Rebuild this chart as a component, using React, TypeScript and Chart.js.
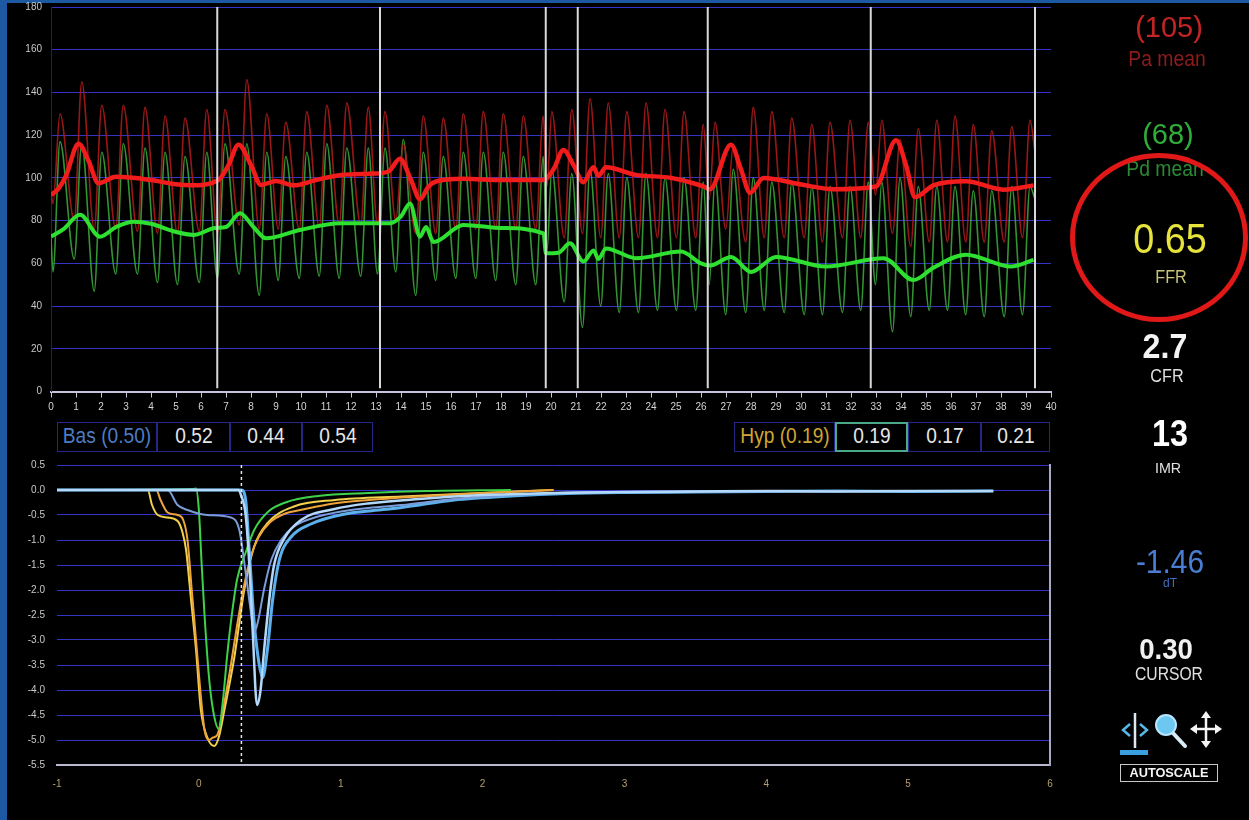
import React, { useEffect, useRef } from "react";
import { Chart, registerables } from "chart.js";
Chart.register(...registerables);

// ---------------- Top chart (pressure, mmHg vs s) ----------------
const topXTicks = [0, 1, 2, 3, 4, 5, 6, 7, 8, 9, 10, 11, 12, 13, 14, 15, 16, 17, 18, 19, 20, 21, 22, 23, 24, 25, 26, 27, 28, 29, 30, 31, 32, 33, 34, 35, 36, 37, 38, 39, 40];
const topYTicks = [0, 20, 40, 60, 80, 100, 120, 140, 160, 180];

const traceStartT = 0;
const paStart = 92;
const pdStart = 72;
const traceEndT = 39.36;
const paEnd = 112;
const pdEnd = 90;

const beatPeakT = [0.36, 1.23, 2.03, 2.89, 3.76, 4.56, 5.36, 6.23, 6.96, 7.83, 8.63, 9.39, 10.23, 11.03, 11.83, 12.69, 13.36, 14.09, 14.89, 15.69, 16.49, 17.29, 18.09, 18.89, 19.69, 20.03, 20.83, 21.56, 22.29, 23.03, 23.8, 24.56, 25.32, 26.09, 26.56, 27.29, 28.09, 28.83, 29.63, 30.43, 31.16, 31.96, 32.69, 33.23, 33.96, 34.69, 35.43, 36.16, 36.89, 37.63, 38.43, 39.16];
const beatTroughT = [0.08, 0.93, 1.73, 2.59, 3.46, 4.26, 5.06, 5.93, 6.66, 7.53, 8.33, 9.09, 9.93, 10.73, 11.53, 12.39, 13.06, 13.79, 14.59, 15.39, 16.19, 16.99, 17.79, 18.59, 19.39, 19.84, 20.53, 21.26, 21.99, 22.73, 23.5, 24.26, 25.02, 25.79, 26.33, 26.99, 27.79, 28.53, 29.33, 30.13, 30.86, 31.66, 32.39, 32.98, 33.66, 34.39, 35.13, 35.86, 36.59, 37.33, 38.13, 38.86];
const paSys = [130, 145, 134, 134, 133, 129, 128, 132, 132, 146, 130, 126, 131, 134, 135, 133, 131, 116, 129, 128, 130, 131, 130, 129, 129, 131, 132, 137, 135, 131, 135, 132, 131, 125, 126, 115, 133, 131, 128, 125, 126, 127, 126, 127, 118, 123, 127, 129, 125, 122, 124, 127];
const paDia = [88, 80, 76, 76, 75, 74, 74, 75, 74, 78, 76, 76, 76, 77, 78, 78, 78, 80, 74, 74, 76, 76, 76, 76, 76, 96, 72, 74, 72, 72, 72, 72, 72, 72, 90, 76, 70, 72, 72, 72, 70, 72, 72, 92, 74, 68, 70, 70, 70, 70, 70, 72];
const pdSys = [117, 116, 112, 116, 114, 112, 110, 112, 116, 116, 112, 110, 112, 116, 114, 114, 114, 118, 112, 110, 112, 112, 112, 110, 110, 104, 102, 104, 102, 100, 102, 100, 100, 98, 100, 104, 100, 98, 98, 96, 96, 96, 98, 98, 100, 96, 96, 96, 94, 94, 96, 96];
const pdDia = [56, 62, 47, 55, 55, 51, 50, 51, 53, 55, 45, 52, 53, 54, 53, 54, 55, 56, 45, 52, 53, 53, 52, 50, 50, 66, 42, 30, 40, 37, 37, 38, 38, 38, 50, 36, 37, 38, 37, 36, 36, 37, 38, 50, 28, 35, 38, 38, 36, 35, 35, 36];

const paMeanT = [0, 0.3, 0.6, 1.1, 1.5, 1.9, 2.6, 4.0, 5.0, 5.6, 6.7, 7.1, 7.5, 8.0, 8.4, 9.0, 9.7, 10.6, 11.6, 12.9, 13.5, 13.96, 14.4, 14.76, 15.1, 15.4, 16.5, 18.0, 19.7, 20.1, 20.5, 20.9, 21.3, 21.7, 21.9, 22.2, 23.4, 24.8, 26.1, 26.36, 27.2, 27.6, 27.96, 28.5, 29.96, 31.3, 33.0, 33.8, 34.2, 34.56, 35.3, 36.6, 38.1, 39.3];
const paMeanV = [92, 95, 101, 116, 108, 97.5, 100.5, 99, 97, 96.5, 99, 106, 115.5, 106, 96.7, 98.5, 96.5, 99, 101.4, 102, 103, 109, 99, 90, 96, 98.3, 99.6, 99, 99, 104, 113, 106, 98, 105, 101, 105, 101.4, 100, 96, 94.7, 115.5, 104, 93, 100, 97, 94.7, 96, 117.6, 106, 91, 96.5, 98.4, 94.5, 96.5];
const pdMeanT = [0, 0.5, 1.16, 1.96, 2.6, 3.3, 4.0, 4.9, 5.7, 6.56, 7.0, 7.56, 8.1, 8.6, 9.96, 11.56, 12.9, 13.56, 14.0, 14.36, 14.76, 15.0, 15.3, 16.5, 18.1, 19.7, 19.8, 20.3, 20.76, 21.3, 21.7, 21.9, 22.2, 23.4, 25.2, 26.0, 26.36, 27.2, 28.0, 29.0, 31.0, 33.3, 34.5, 35.3, 36.6, 38.4, 39.3];
const pdMeanV = [72.5, 76, 82.7, 72.5, 77, 79.5, 78.5, 75, 73.3, 76.5, 77, 83.5, 77, 71.7, 75.6, 78.8, 78.8, 78.8, 82, 88, 72.5, 77, 70, 78, 76.5, 74, 64.7, 65, 69.4, 60.8, 66, 62, 67, 62.4, 65.5, 60, 59, 63, 56, 63, 58.5, 62.4, 52.2, 58, 64, 58.5, 61.6];

const cursorT = [6.65, 13.16, 19.79, 21.07, 26.27, 32.79, 39.36];

// ---------------- Bottom chart (thermodilution curves) ----------------
const bottomXTicks = [-1, 0, 1, 2, 3, 4, 5, 6];
const bottomYTicks = [0.5, 0, -0.5, -1, -1.5, -2, -2.5, -3, -3.5, -4, -4.5, -5, -5.5];
const thermoCursor = 0.3;

const hyp1T = [-1, -0.36, -0.33, -0.29, -0.22, -0.15, -0.115, -0.09, -0.055, -0.02, 0.014, 0.06, 0.108, 0.14, 0.18, 0.25, 0.32, 0.39, 0.485, 0.67, 0.96, 1.43, 2.0, 2.5];
const hyp1V = [0, 0, -0.3, -0.5, -0.55, -0.62, -0.85, -1.2, -2.2, -3.2, -4.4, -4.95, -5.12, -4.95, -4.4, -3.35, -2.0, -1.13, -0.66, -0.33, -0.2, -0.13, -0.06, 0];
const hyp2T = [-1, -0.3, -0.27, -0.22, -0.15, -0.11, -0.08, -0.05, -0.02, 0.01, 0.04, 0.07, 0.1, 0.13, 0.17, 0.22, 0.27, 0.32, 0.37, 0.42, 0.5, 0.6, 0.75, 0.95, 1.2, 1.5, 2.0, 2.5];
const hyp2V = [0, 0, -0.2, -0.45, -0.5, -0.6, -1.0, -2.0, -3.0, -4.0, -4.8, -5.0, -4.95, -4.9, -4.4, -3.6, -2.7, -1.9, -1.3, -0.95, -0.65, -0.48, -0.38, -0.27, -0.2, -0.14, -0.06, 0];
const hyp3T = [-1, -0.04, -0.02, 0.0, 0.02, 0.04, 0.07, 0.1, 0.14, 0.17, 0.2, 0.23, 0.27, 0.33, 0.39, 0.49, 0.61, 0.84, 1.2, 1.6, 2.2];
const hyp3V = [0, 0.02, 0.03, -0.4, -1.5, -2.5, -3.7, -4.4, -4.78, -4.2, -3.3, -2.55, -1.78, -1.25, -0.8, -0.43, -0.25, -0.12, -0.06, -0.02, 0];
const bas1T = [-1, 0.28, 0.297, 0.33, 0.356, 0.38, 0.41, 0.435, 0.46, 0.5, 0.53, 0.6, 0.72, 0.956, 1.19, 1.55, 2.0, 2.5, 3.0, 3.5, 4.0, 4.5, 5.0, 5.6];
const bas1V = [0, 0, -0.1, -0.5, -1.5, -2.85, -4.3, -4.0, -3.2, -2.1, -1.5, -0.98, -0.6, -0.38, -0.27, -0.18, -0.1, -0.06, -0.04, -0.03, -0.02, -0.03, -0.02, -0.02];
const bas2T = [-1, -0.22, -0.15, -0.08, 0.06, 0.226, 0.285, 0.33, 0.367, 0.39, 0.415, 0.46, 0.51, 0.58, 0.67, 0.84, 1.07, 1.43, 1.8, 2.2, 2.6, 3.0, 3.5, 4.0, 4.5, 5.0, 5.6];
const bas2V = [0, 0, -0.3, -0.4, -0.5, -0.55, -0.8, -1.65, -2.45, -2.85, -2.65, -1.98, -1.4, -1.0, -0.73, -0.53, -0.4, -0.3, -0.18, -0.1, -0.05, -0.04, -0.03, -0.03, -0.02, -0.02, -0.02];
const bas3T = [-1, 0.3, 0.33, 0.355, 0.39, 0.426, 0.45, 0.485, 0.52, 0.567, 0.65, 0.79, 1.03, 1.2, 1.43, 1.8, 2.2, 2.6, 3.0, 3.5, 4.0, 4.5, 5.0, 5.6];
const bas3V = [0, 0, -0.2, -1.2, -2.65, -3.5, -3.75, -3.15, -2.2, -1.4, -0.94, -0.68, -0.48, -0.42, -0.35, -0.2, -0.12, -0.07, -0.05, -0.04, -0.03, -0.02, -0.03, -0.02];

// ---------------- Tables & side panel ----------------
const basLabel = "Bas";
const basMean = "(0.50)";
const basValues = ["0.52", "0.44", "0.54"];
const hypLabel = "Hyp";
const hypMean = "(0.19)";
const hypValues = ["0.19", "0.17", "0.21"];

const paMeanText = "(105)";
const pdMeanText = "(68)";
const ffrText = "0.65";
const cfrText = "2.7";
const imrText = "13";
const dtText = "-1.46";
const cursorText = "0.30";

const FONT = "'Liberation Sans', Arial, Helvetica, sans-serif";

const pts = (xs: number[], ys: number[]) => xs.map((x, i) => ({ x, y: ys[i] }));

function wave(sys: number[], dia: number[], start: number, end: number) {
  const out: { x: number; y: number }[] = [{ x: traceStartT, y: start }];
  beatPeakT.forEach((t, i) => {
    out.push({ x: beatTroughT[i], y: dia[i] });
    out.push({ x: t, y: sys[i] });
  });
  out.push({ x: traceEndT, y: end });
  return out;
}

function TopChart() {
  const ref = useRef<HTMLCanvasElement>(null);
  useEffect(() => {
    const yMin = topYTicks[0];
    const yMax = topYTicks[topYTicks.length - 1];
    const cursors = cursorT.map((t) => ({
      data: [{ x: t, y: yMin + 1.5 }, { x: t, y: yMax }],
      borderColor: "#d8d8d8",
      borderWidth: 2,
      pointRadius: 0,
    }));
    const chart = new Chart(ref.current!, {
      type: "line",
      data: {
        datasets: [
          ...cursors,
          { data: pts(paMeanT, paMeanV), borderColor: "#f21c1c", borderWidth: 4.5, pointRadius: 0, cubicInterpolationMode: "monotone" },
          { data: pts(pdMeanT, pdMeanV), borderColor: "#2ee030", borderWidth: 4, pointRadius: 0, cubicInterpolationMode: "monotone" },
          { data: wave(paSys, paDia, paStart, paEnd), borderColor: "rgba(172,26,26,0.9)", borderWidth: 1.6, pointRadius: 0, cubicInterpolationMode: "monotone" },
          { data: wave(pdSys, pdDia, pdStart, pdEnd), borderColor: "rgba(56,164,56,0.9)", borderWidth: 1.6, pointRadius: 0, cubicInterpolationMode: "monotone" },
        ] as any,
      },
      options: {
        animation: false,
        responsive: false,
        devicePixelRatio: 1,
        layout: { padding: { top: 7, right: 9, left: 0, bottom: 0 } },
        plugins: { legend: { display: false }, tooltip: { enabled: false } },
        scales: {
          x: {
            type: "linear",
            min: topXTicks[0],
            max: topXTicks[topXTicks.length - 1],
            afterBuildTicks: (s: any) => { s.ticks = topXTicks.map((v) => ({ value: v })); },
            afterFit: (s: any) => { s.height = 28.5; s.paddingLeft = 0; s.paddingRight = 0; },
            grid: { display: true, drawOnChartArea: false, drawTicks: true, tickLength: 6, tickColor: "#c8c8d8", tickWidth: 1 },
            border: { display: true, color: "#c4c4dc", width: 2 },
            ticks: { color: "#d4d4d4", font: { family: FONT, size: 10 }, padding: 4, autoSkip: false, maxRotation: 0 },
          },
          y: {
            type: "linear",
            min: yMin,
            max: yMax,
            afterBuildTicks: (s: any) => { s.ticks = topYTicks.map((v) => ({ value: v })); },
            afterFit: (s: any) => { s.width = 43; s.paddingTop = 0; s.paddingBottom = 0; },
            grid: { color: "#3434c4", lineWidth: 1, drawTicks: false },
            border: { display: true, color: "#22224a", width: 1 },
            ticks: { color: "#c8c8c8", font: { family: FONT, size: 10 }, padding: 9 },
          },
        },
      } as any,
    });
    return () => chart.destroy();
  }, []);
  return <canvas ref={ref} width={1052} height={420} style={{ position: "absolute", left: 8, top: 0 }} />;
}

function BottomChart() {
  const ref = useRef<HTMLCanvasElement>(null);
  useEffect(() => {
    const yMin = bottomYTicks[bottomYTicks.length - 1];
    const yMax = bottomYTicks[0];
    const line = (xs: number[], ys: number[], color: string, w: number) => ({
      data: pts(xs, ys),
      borderColor: color,
      borderWidth: w,
      pointRadius: 0,
      cubicInterpolationMode: "monotone",
    });
    const chart = new Chart(ref.current!, {
      type: "line",
      data: {
        datasets: [
          { data: [{ x: thermoCursor, y: yMax }, { x: thermoCursor, y: yMin }], borderColor: "#e4e4e4", borderWidth: 1.5, borderDash: [3, 3], pointRadius: 0 },
          line(bas1T, bas1V, "#b4d8fa", 2.5),
          line(bas2T, bas2V, "#7a9cd8", 2),
          line(bas3T, bas3V, "#5cb0ec", 3),
          line(hyp3T, hyp3V, "#3ed24a", 2),
          line(hyp2T, hyp2V, "#eea43a", 2),
          line(hyp1T, hyp1V, "#f2d24a", 2),
        ] as any,
      },
      options: {
        animation: false,
        responsive: false,
        devicePixelRatio: 1,
        layout: { padding: { top: 10, right: 10, left: 0, bottom: 0 } },
        plugins: { legend: { display: false }, tooltip: { enabled: false } },
        scales: {
          x: {
            type: "linear",
            min: bottomXTicks[0],
            max: bottomXTicks[bottomXTicks.length - 1],
            afterBuildTicks: (s: any) => { s.ticks = bottomXTicks.map((v) => ({ value: v })); },
            afterFit: (s: any) => { s.height = 35; s.paddingLeft = 0; s.paddingRight = 0; },
            grid: { display: false, drawTicks: false },
            border: { display: true, color: "#b8b8d0", width: 2 },
            ticks: { color: "#b4a070", font: { family: FONT, size: 10 }, padding: 13, autoSkip: false, maxRotation: 0 },
          },
          y: {
            type: "linear",
            min: yMin,
            max: yMax,
            afterBuildTicks: (s: any) => { s.ticks = bottomYTicks.map((v) => ({ value: v })); },
            afterFit: (s: any) => { s.width = 49; s.paddingTop = 0; s.paddingBottom = 0; },
            grid: { color: "#3434c4", lineWidth: 1, drawTicks: false },
            border: { display: false },
            ticks: { color: "#c8c8c8", font: { family: FONT, size: 10 }, padding: 12, callback: (v: any) => Number(v).toFixed(1) },
          },
          y2: {
            type: "linear",
            position: "right",
            min: yMin,
            max: yMax,
            afterFit: (s: any) => { s.width = 0; s.paddingTop = 0; s.paddingBottom = 0; },
            grid: { display: false, drawTicks: false },
            border: { display: true, color: "#a8a8c0", width: 2 },
            ticks: { display: false },
          },
        },
      } as any,
    });
    return () => chart.destroy();
  }, []);
  return <canvas ref={ref} width={1052} height={345} style={{ position: "absolute", left: 8, top: 455 }} />;
}

function Txt(p: { cx: number; capTop: number; size: number; sx?: number; color: string; bold?: boolean; children: React.ReactNode }) {
  return (
    <div
      style={{
        position: "absolute",
        left: p.cx - 150,
        width: 300,
        top: p.capTop - 0.13 * p.size,
        height: p.size,
        fontSize: p.size,
        lineHeight: `${p.size}px`,
        textAlign: "center",
        color: p.color,
        fontWeight: p.bold ? 700 : 400,
        fontFamily: FONT,
        transform: `scaleX(${p.sx ?? 1})`,
        whiteSpace: "nowrap",
      }}
    >
      {p.children}
    </div>
  );
}

function Cell(p: { left: number; right: number; border?: string; bw?: number; children: React.ReactNode }) {
  const bw = p.bw ?? 1;
  return (
    <>
      <div
        style={{
          position: "absolute",
          left: p.left,
          top: 422,
          width: p.right - p.left,
          height: 30,
          boxSizing: "border-box",
          border: `${bw}px solid ${p.border ?? "#262686"}`,
        }}
      />
      <Txt cx={(p.left + p.right) / 2} capTop={428} size={22} sx={0.87} color="#e6e6e6">
        {p.children}
      </Txt>
    </>
  );
}

function Tables() {
  return (
    <>
      <Cell left={57} right={157}>
        <span style={{ color: "#4d7cc4" }}>{basLabel} {basMean}</span>
      </Cell>
      <Cell left={157} right={230}>{basValues[0]}</Cell>
      <Cell left={230} right={302}>{basValues[1]}</Cell>
      <Cell left={302} right={373}>{basValues[2]}</Cell>

      <Cell left={734} right={835}>
        <span style={{ color: "#cfa535" }}>{hypLabel} {hypMean}</span>
      </Cell>
      <Cell left={835} right={908} border="#48a888" bw={2}>{hypValues[0]}</Cell>
      <Cell left={908} right={981}>{hypValues[1]}</Cell>
      <Cell left={981} right={1050}>{hypValues[2]}</Cell>
    </>
  );
}

function RightPanel() {
  return (
    <>
      <Txt cx={1169} capTop={17} size={29} color="#c42424">{paMeanText}</Txt>
      <Txt cx={1167} capTop={51} size={22} sx={0.88} color="#8e1c1c">Pa mean</Txt>
      <Txt cx={1168} capTop={124} size={29} color="#2fae3a">{pdMeanText}</Txt>
      <Txt cx={1165} capTop={161} size={22} sx={0.88} color="#2a8a34">Pd mean</Txt>
      <Txt cx={1170} capTop={223} size={42} sx={0.9} color="#e6e43c">{ffrText}</Txt>
      <Txt cx={1171} capTop={270} size={18} sx={0.9} color="#c9c47a">FFR</Txt>
      <Txt cx={1165} capTop={333} size={35} sx={0.92} bold color="#f4f4f4">{cfrText}</Txt>
      <Txt cx={1167} capTop={369} size={18} sx={0.9} color="#e0e0e0">CFR</Txt>
      <Txt cx={1170} capTop={421} size={36} sx={0.9} bold color="#ffffff">{imrText}</Txt>
      <Txt cx={1168} capTop={462} size={15} sx={0.95} color="#e0e0e0">IMR</Txt>
      <Txt cx={1170} capTop={548} size={34} sx={0.88} color="#4a7ed4">{dtText}</Txt>
      <Txt cx={1170} capTop={579} size={12} color="#3f6fc0">dT</Txt>
      <Txt cx={1166} capTop={638} size={30} sx={0.92} bold color="#f0f0f0">{cursorText}</Txt>
      <Txt cx={1169} capTop={667} size={18} sx={0.87} color="#e0e0e0">CURSOR</Txt>

      <div
        style={{
          position: "absolute",
          left: 1070,
          top: 153,
          width: 178,
          height: 169,
          boxSizing: "border-box",
          border: "5px solid #e01818",
          borderRadius: "50%",
        }}
      />

      <svg width={110} height={50} style={{ position: "absolute", left: 1115, top: 708 }}>
        <polyline points="15,16 8,22 15,28" fill="none" stroke="#58b8e8" strokeWidth={2.5} />
        <line x1={20} y1={5} x2={20} y2={40} stroke="#dde8f0" strokeWidth={2.5} />
        <polyline points="25,16 32,22 25,28" fill="none" stroke="#58b8e8" strokeWidth={2.5} />
        <rect x={5} y={42} width={28} height={5} fill="#3aa0e0" />
        <line x1={57} y1={24} x2={70} y2={38} stroke="#d8ecf8" strokeWidth={4} strokeLinecap="round" />
        <circle cx={51} cy={17} r={10} fill="#6cc8f0" stroke="#b8e6ff" strokeWidth={2} />
        <line x1={78} y1={21} x2={104} y2={21} stroke="#f4f4f4" strokeWidth={2.5} />
        <line x1={91} y1={6} x2={91} y2={37} stroke="#f4f4f4" strokeWidth={2.5} />
        <polygon points="91,3 86,10 96,10" fill="#f4f4f4" />
        <polygon points="91,40 86,33 96,33" fill="#f4f4f4" />
        <polygon points="75,21 82,16 82,26" fill="#f4f4f4" />
        <polygon points="107,21 100,16 100,26" fill="#f4f4f4" />
      </svg>
      <div
        style={{
          position: "absolute",
          left: 1120,
          top: 764,
          width: 98,
          height: 18,
          boxSizing: "border-box",
          border: "1.5px solid #c8c8c8",
        }}
      />
      <Txt cx={1169} capTop={768} size={13} sx={0.98} bold color="#f4f4f4">AUTOSCALE</Txt>
    </>
  );
}

export default function App() {
  return (
    <div style={{ position: "fixed", left: 0, top: 0, width: 1249, height: 820, background: "#1d58a2", overflow: "hidden" }}>
      <div style={{ position: "absolute", left: 7, top: 3, width: 1242, height: 817, background: "#000" }} />
      <TopChart />
      <Tables />
      <BottomChart />
      <RightPanel />
    </div>
  );
}
